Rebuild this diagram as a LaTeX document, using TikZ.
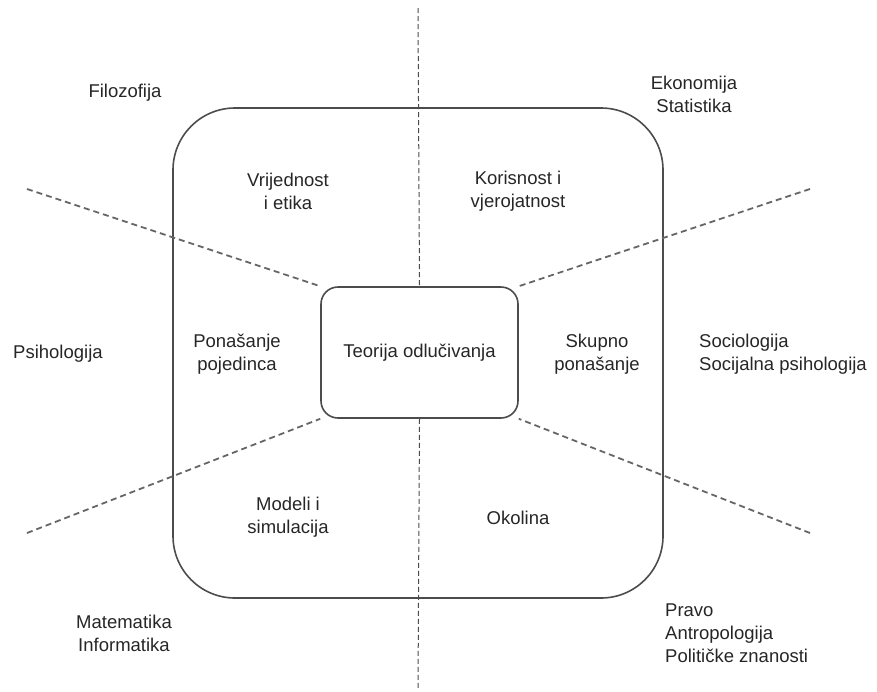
\documentclass[tikz,border=0pt]{standalone}
\usepackage{fontspec}
\setmainfont{Liberation Sans}
\begin{document}
\begin{tikzpicture}[x=1pt,y=-1pt,
  lbl/.style={inner sep=0pt,text=black!85,font=\fontsize{18.5}{23}\selectfont,align=center},
  lbll/.style={lbl,align=left,anchor=west},
  frame/.style={draw=black!70,line width=1.6pt},
  dash line/.style={draw=black!60,line width=1.8pt,dash pattern=on 6pt off 4pt},
  vdash/.style={draw=black!70,line width=1pt,dash pattern=on 5pt off 3pt}]
\useasboundingbox (0,0) rectangle (877,691);
% outer rounded box
\node[frame,rounded corners=62pt,minimum width=490pt,minimum height=490pt,inner sep=0pt] (outer) at (418,353) {};
% inner box
\node[frame,rounded corners=17pt,minimum width=197pt,minimum height=131pt,inner sep=0pt,
      font=\fontsize{18.5}{23}\selectfont,text=black!85] (core) at (419.5,352.5) {Teorija odlučivanja};
% vertical dashed line
\coordinate (vtop) at (418,8);
\coordinate (vbot) at (418,690);
\draw[vdash] (vtop) -- (core.north);
\draw[vdash] (core.south) -- (vbot);
% diagonal dashed lines
\coordinate (ul) at (27,189);
\coordinate (ur) at (810,189);
\coordinate (ll) at (27,533);
\coordinate (lr) at (810,533);
\draw[dash line] (ul) -- (core.north west);
\draw[dash line] (ur) -- (core.north east);
\draw[dash line] (ll) -- (core.south west);
\draw[dash line] (lr) -- (core.south east);
% inner labels
\node[lbl] (vrij) at (288,191.5) {Vrijednost\\i etika};
\node[lbl] (kor) at (518,191.5) {Korisnost i\\vjerojatnost};
\node[lbl] (pon) at (237,354) {Ponašanje\\pojedinca};
\node[lbl] (sku) at (597,354) {Skupno\\ponašanje};
\node[lbl] (mod) at (288,517) {Modeli i\\simulacija};
\node[lbl] (oko) at (518,518) {Okolina};
% outer labels
\node[lbl] (filo) at (125,93) {Filozofija};
\node[lbl] (eko) at (694,94) {Ekonomija\\Statistika};
\node[lbll] (psi) at (13,354) {Psihologija};
\node[lbll] (soc) at (699,354) {Sociologija\\Socijalna psihologija};
\node[lbl] (mat) at (124,633) {Matematika\\Informatika};
\node[lbll] (pra) at (665,633) {Pravo\\Antropologija\\Političke znanosti};
\end{tikzpicture}
\end{document}
